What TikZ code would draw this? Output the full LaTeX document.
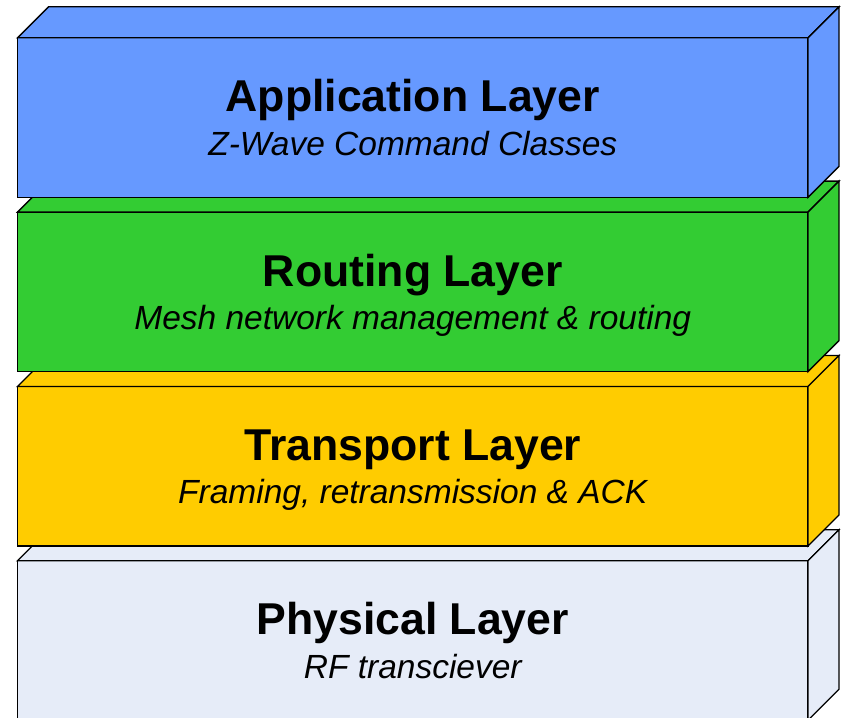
\documentclass[tikz,border=0pt]{standalone}
\usepackage{fontspec}
\setmainfont{Liberation Sans}
\usetikzlibrary{%
	positioning
}
\definecolor{appblue}{HTML}{6699FF}
\definecolor{routegreen}{HTML}{33CC33}
\definecolor{transyellow}{HTML}{FFCC00}
\definecolor{physgray}{HTML}{E6ECF8}

\begin{document}
\begin{tikzpicture}[x=1pt,y=1pt,
		LayerBox/.style={draw,shape=rectangle,line width=1.3pt,minimum width=790.5pt,minimum height=159.5pt,outer sep=0pt,inner sep=0pt},
		LayerFace/.style={draw,line width=1.3pt,line join=miter},
		LayerTitle/.style={font=\fontsize{44.6}{50}\selectfont\bfseries,inner sep=0pt},
		LayerSub/.style={font=\fontsize{33.5}{38}\selectfont\itshape,inner sep=0pt}
	]
	\useasboundingbox (0,0) rectangle (844,718);
	\clip (0,0) rectangle (844,718);
	
	%Physical
	\node (physical) [LayerBox,fill=physgray] at (412.75,77.5) {};
	\filldraw [LayerFace,fill=physgray] (physical.north west) -- ++(31,31) -- ++(790.5,0) -- (physical.north east) -- cycle;
	\filldraw [LayerFace,fill=physgray] (physical.north east) -- ++(31,31) -- ++(0,-159.5) -- (physical.south east) -- cycle;
	\node (physical-title) [LayerTitle, below=74pt of physical.north, anchor=base] {Physical Layer};
	\node (physical-sub) [LayerSub, below=117.5pt of physical.north, anchor=base] {RF transciever};
	
	%Transport
	\node (transport) [LayerBox,fill=transyellow, above=14.8pt of physical] {};
	\filldraw [LayerFace,fill=transyellow] (transport.north west) -- ++(31,31) -- ++(790.5,0) -- (transport.north east) -- cycle;
	\filldraw [LayerFace,fill=transyellow] (transport.north east) -- ++(31,31) -- ++(0,-159.5) -- (transport.south east) -- cycle;
	\node (transport-title) [LayerTitle, below=74pt of transport.north, anchor=base] {Transport Layer};
	\node (transport-sub) [LayerSub, below=117.5pt of transport.north, anchor=base] {Framing, retransmission \& ACK};
	
	%Routing
	\node (routing) [LayerBox,fill=routegreen, above=14.8pt of transport] {};
	\filldraw [LayerFace,fill=routegreen] (routing.north west) -- ++(31,31) -- ++(790.5,0) -- (routing.north east) -- cycle;
	\filldraw [LayerFace,fill=routegreen] (routing.north east) -- ++(31,31) -- ++(0,-159.5) -- (routing.south east) -- cycle;
	\node (routing-title) [LayerTitle, below=74pt of routing.north, anchor=base] {Routing Layer};
	\node (routing-sub) [LayerSub, below=117.5pt of routing.north, anchor=base] {Mesh network management \& routing};
	
	%Application
	\node (app) [LayerBox,fill=appblue, above=14.8pt of routing] {};
	\filldraw [LayerFace,fill=appblue] (app.north west) -- ++(31,31) -- ++(790.5,0) -- (app.north east) -- cycle;
	\filldraw [LayerFace,fill=appblue] (app.north east) -- ++(31,31) -- ++(0,-159.5) -- (app.south east) -- cycle;
	\node (app-title) [LayerTitle, below=74pt of app.north, anchor=base] {Application Layer};
	\node (app-sub) [LayerSub, below=117.5pt of app.north, anchor=base] {Z-Wave Command Classes};
	
\end{tikzpicture}
\end{document}
